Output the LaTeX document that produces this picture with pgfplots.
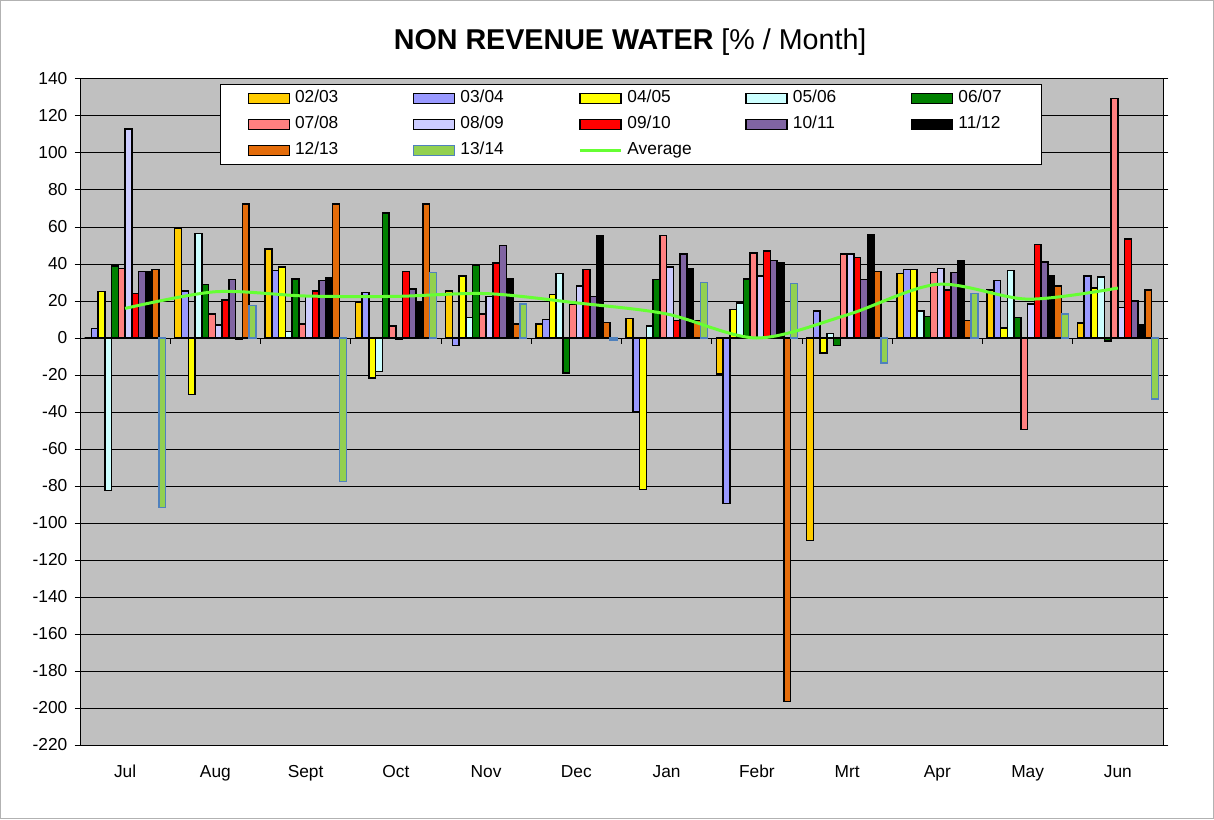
\documentclass[border=0pt]{standalone}
\usepackage{pgfplots}
\pgfplotsset{compat=1.18}
\usepackage{pgfplotstable}
\usepackage{fontspec}
\setmainfont{Liberation Sans}
\definecolor{cA}{HTML}{FFCC00}
\definecolor{cB}{HTML}{9999FF}
\definecolor{cC}{HTML}{FFFF00}
\definecolor{cD}{HTML}{CCFFFF}
\definecolor{cE}{HTML}{008000}
\definecolor{cF}{HTML}{FF8080}
\definecolor{cG}{HTML}{CCCCFF}
\definecolor{cH}{HTML}{FF0000}
\definecolor{cI}{HTML}{8064A2}
\definecolor{cJ}{HTML}{000000}
\definecolor{cK}{HTML}{E46C0A}
\definecolor{cL}{HTML}{92D050}
\definecolor{cLb}{HTML}{4F81BD}
\definecolor{avgc}{HTML}{66FF33}
\definecolor{plotbg}{HTML}{C0C0C0}

\pgfplotsset{
  mybar/.style={ybar, bar width=0.075, bar shift=#1, draw=black, line width=1.1pt,
    legend image code/.code={\draw[##1] (0pt,-3.75pt) rectangle (30.75pt,3.75pt);}},
  avgline/.style={smooth, color=avgc, line width=2.25pt, mark=none,
    legend image code/.code={\draw[##1] (0pt,0pt) -- (30.75pt,0pt);}},
}

% m: 0=Jul ... 11=Jun
\pgfplotstableread{
m  a      b      c      d      e      f      g      h      i      j      k       l
0  0      5      25     -82.5  39     37.5   113    24     36     36     37      -91.5
1  59.5   25.5   -30.5  56.5   29     13     7      20.5   31.5   -0.5   72.5    17.5
2  48     36.5   38.5   3.5    32     7.5    23     25.5   31     32.5   72.5    -77.5
3  19.5   24.5   -21.5  -18    67.5   6.5    -0.5   36     26.5   19     72.5    35.5
4  25.5   -4     33.5   11     39.5   13     22.5   40.5   50     32     7.5     18.5
5  7.5    10     23.5   35     -19    18     28     37     22.5   55.5   8.5     -1
6  10.5   -40    -82    6.5    31.5   55.5   38.5   9.5    45.5   37.5   9.5     30
7  -19.5  -89.5  15.5   19     32     46     33.5   47     42     40.5   -196.5  29.5
8  -109.5 14.5   -8     2.5    -4     45.5   45.5   43.5   31.5   56     36      -13.5
9  35     37     37     14.5   11.5   35.5   37.5   26     35.5   42     9.5     24
10 26     31     5.5    36.5   11     -49.5  18.5   50.5   41     33.5   28      13
11 8      33.5   27     33     -1.5   129.5  16.5   53.5   20     7      26      -33
}\data

\pgfplotstableread{
m  avg
0  16
1  25
2  22.7
3  22.5
4  24
5  19
6  13
7  0
8  12.5
9  29
10 21
11 27
}\avgdata

\begin{document}
\begin{tikzpicture}
\path (0pt,0pt) rectangle (910.5pt,614.25pt);
\draw[gray!60, line width=0.75pt] (0.375pt,0.375pt) rectangle (910.125pt,613.875pt);
\begin{axis}[
  at={(60pt,55.5pt)}, anchor=south west,
  scale only axis, width=812.25pt, height=499.5pt,
  xmin=-0.5, xmax=11.5, ymin=-220, ymax=140,
  ytick distance=20,
  xtick={0,...,11},
  xticklabels={Jul,Aug,Sept,Oct,Nov,Dec,Jan,Febr,Mrt,Apr,May,Jun},
  x tick style={draw=none},
  y tick style={black, line width=0.75pt},
  tick align=outside, major tick length=4pt,
  ymajorgrids, major grid style={black, line width=0.75pt},
  axis line style={black, line width=0.75pt},
  axis background/.style={fill=plotbg},
  ticklabel style={font=\fontsize{13}{15}\selectfont},
  /pgf/number format/assume math mode=true,
  xticklabel style={anchor=base, yshift=-20pt},
  yticklabel style={anchor=east, xshift=-2pt},
  title={\textbf{NON REVENUE WATER} [\% / Month]},
  title style={at={(0.508,1)}, anchor=center, yshift=22pt, font=\fontsize{21.5}{24}\selectfont},
  legend columns=5,
  legend style={at={(0.1293,0.9925)}, anchor=north west, draw=black, fill=white,
    line width=0.75pt, font=\fontsize{13}{15}\selectfont,
    inner xsep=20.25pt, inner ysep=2.25pt, row sep=3pt,
    nodes={inner sep=2pt, text height=9.5pt, text depth=3pt},
    /tikz/every odd column/.append style={column sep=1.75pt},
    /tikz/every even column/.append style={column sep=6.5pt}},
]
\addplot[mybar=-0.4125, fill=cA] table[x=m,y=a]{\data};
\addlegendentry{\makebox[80pt][l]{02/03}}
\addplot[mybar=-0.3375, fill=cB] table[x=m,y=b]{\data};
\addlegendentry{\makebox[80pt][l]{03/04}}
\addplot[mybar=-0.2625, fill=cC] table[x=m,y=c]{\data};
\addlegendentry{\makebox[80pt][l]{04/05}}
\addplot[mybar=-0.1875, fill=cD] table[x=m,y=d]{\data};
\addlegendentry{\makebox[80pt][l]{05/06}}
\addplot[mybar=-0.1125, fill=cE] table[x=m,y=e]{\data};
\addlegendentry{\makebox[40pt][l]{06/07}}
\addplot[mybar=-0.0375, fill=cF] table[x=m,y=f]{\data};
\addlegendentry{\makebox[80pt][l]{07/08}}
\addplot[mybar=0.0375, fill=cG] table[x=m,y=g]{\data};
\addlegendentry{\makebox[80pt][l]{08/09}}
\addplot[mybar=0.1125, fill=cH] table[x=m,y=h]{\data};
\addlegendentry{\makebox[80pt][l]{09/10}}
\addplot[mybar=0.1875, fill=cI] table[x=m,y=i]{\data};
\addlegendentry{\makebox[80pt][l]{10/11}}
\addplot[mybar=0.2625, fill=cJ] table[x=m,y=j]{\data};
\addlegendentry{\makebox[40pt][l]{11/12}}
\addplot[mybar=0.3375, fill=cK] table[x=m,y=k]{\data};
\addlegendentry{\makebox[80pt][l]{12/13}}
\addplot[mybar=0.4125, fill=cL, draw=cLb] table[x=m,y=l]{\data};
\addlegendentry{\makebox[80pt][l]{13/14}}
\addplot[avgline] table[x=m,y=avg]{\avgdata};
\addlegendentry{\makebox[80pt][l]{Average}}
\pgfplotsinvokeforeach{-0.5,0.5,1.5,2.5,3.5,4.5,5.5,6.5,7.5,8.5,9.5,10.5,11.5}{
  \draw[black, line width=0.75pt] (axis cs:#1,0) -- ([yshift=-4.5pt]axis cs:#1,0);
}
\end{axis}
\end{tikzpicture}
\end{document}
